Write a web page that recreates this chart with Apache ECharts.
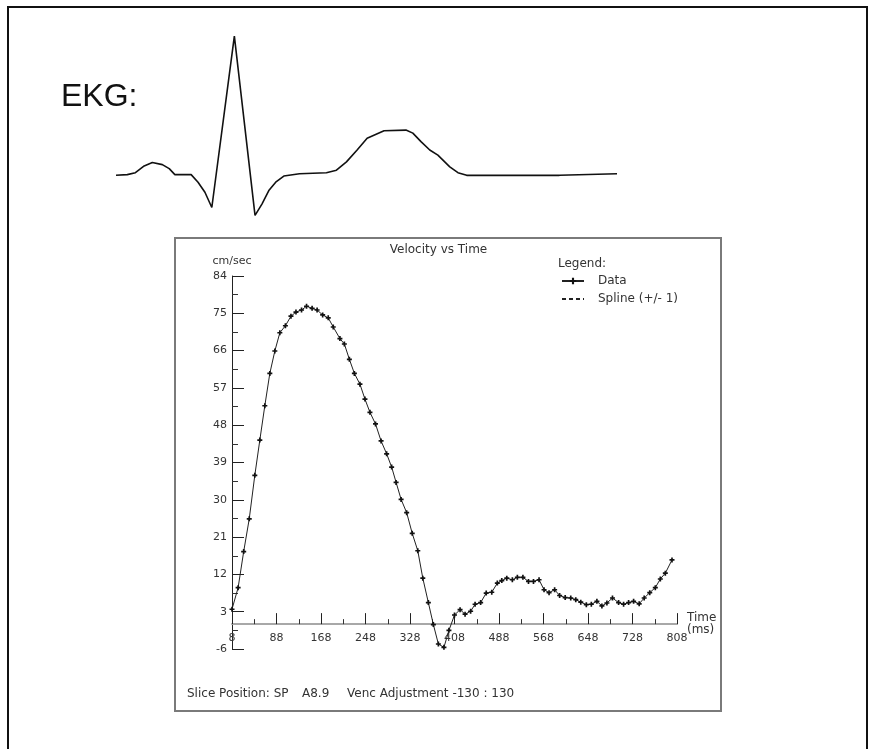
<!DOCTYPE html>
<html>
<head>
<meta charset="utf-8">
<title>EKG / Velocity vs Time</title>
<script src="https://cdn.jsdelivr.net/npm/echarts@6/dist/echarts.min.js"></script>
<style>
  html, body { margin: 0; padding: 0; background: #fff; }
  #main { width: 877px; height: 749px; }
</style>
</head>
<body>
<div id="main"></div>
<script>
// EKG trace (time in ms, amplitude normalised to the R peak)
var ekgTime = [0, 18, 31, 45, 58, 74, 85, 94, 120, 131, 142, 153, 189, 222, 233, 244, 255, 268, 293, 336,
  352, 368, 385, 401, 428, 463, 474, 487, 501, 514, 533, 546, 560, 708, 711, 800];
var ekgAmp = [-0.012, -0.007, 0.007, 0.056, 0.081, 0.066, 0.037, -0.007, -0.007, -0.062, -0.135, -0.246, 1.0, -0.303, -0.221, -0.123, -0.062, -0.017, 0, 0.007,
  0.025, 0.086, 0.172, 0.258, 0.312, 0.317, 0.295, 0.233, 0.172, 0.135, 0.049, 0.007, -0.012, -0.012, 0, 0];

// velocity measurements
var timeMs = [8, 19, 29, 39, 49, 58, 67, 76, 85, 94, 104, 114, 123, 133, 142, 152, 161, 171, 181, 190,
  202, 210, 219, 228, 238, 247, 256, 266, 276, 286, 295, 303, 312, 322, 332, 342, 351, 361, 370, 379,
  389, 398, 408,
  418, 427, 437, 445, 455, 465, 475, 485, 493, 502, 512, 521, 531, 541, 550, 560, 569, 578, 588, 597,
  607, 617, 626, 635, 645, 654, 664, 673, 682, 692, 703, 712, 721, 730, 740, 749, 759, 769, 778, 787, 799];
var velocity = [3.6, 8.8, 17.5, 25.4, 35.9, 44.4, 52.7, 60.5, 65.9, 70.3, 72.0, 74.3, 75.3, 75.8, 76.7, 76.2, 75.8, 74.6, 73.9, 71.7,
  68.9, 67.6, 63.9, 60.5, 57.9, 54.3, 51.1, 48.3, 44.2, 41.1, 37.9, 34.2, 30.1, 26.9, 21.9, 17.7, 11.1, 5.2, -0.1, -4.8,
  -5.6, -1.5, 2.2,
  3.5, 2.4, 3.1, 4.8, 5.2, 7.5, 7.7, 9.9, 10.5, 11.1, 10.7, 11.3, 11.3, 10.3, 10.3, 10.7, 8.3, 7.6, 8.3, 6.9,
  6.4, 6.3, 5.9, 5.3, 4.7, 4.8, 5.5, 4.4, 5.1, 6.3, 5.2, 4.8, 5.2, 5.5, 4.9, 6.3, 7.6, 8.8, 10.9, 12.3, 15.5];

var xTicks = { min: 8, max: 808, step: 80 };
var yTicks = { min: -6, max: 84, step: 9 };

var ekgData = ekgTime.map(function (t, i) { return [t, ekgAmp[i]]; });
var velData = timeMs.map(function (t, i) { return [t, velocity[i]]; });

var font = 'DejaVu Sans';
var plus = 'path://M1,0H2V1H3V2H2V3H1V2H0V1H1Z';
var txt = '12px "DejaVu Sans"';

var myChart = echarts.init(document.getElementById('main'));
myChart.setOption({
  backgroundColor: '#fff',
  animation: false,
  title: {
    text: 'Velocity vs Time',
    left: 'center',
    top: 244,
    padding: 0,
    textStyle: { fontFamily: font, fontSize: 12, fontWeight: 'normal', color: '#333' }
  },
  legend: {
    orient: 'vertical',
    left: 561,
    top: 275,
    padding: 0,
    itemWidth: 22,
    itemHeight: 8,
    itemGap: 6,
    textStyle: { fontFamily: font, fontSize: 12, color: '#333', padding: [0, 0, 0, 9] },
    data: [
      { name: 'Data' },
      { name: 'Spline (+/- 1)', itemStyle: { opacity: 0 } }
    ]
  },
  grid: [
    { left: 232, top: 276, right: 200, bottom: 100 },
    { left: 116, top: 29.3, right: 260, bottom: 527.2 }
  ],
  xAxis: [
    {
      gridIndex: 0,
      type: 'value',
      min: xTicks.min,
      max: xTicks.max,
      interval: xTicks.step,
      name: 'Time\n(ms)',
      nameLocation: 'end',
      nameGap: 10,
      nameMoveOverlap: false,
      nameTextStyle: { fontFamily: font, fontSize: 12, color: '#333', lineHeight: 12, padding: [3, 0, 0, 0] },
      axisLine: { onZero: true, lineStyle: { color: '#a8a8a8', width: 2 } },
      axisTick: { inside: true, length: 11, lineStyle: { color: '#222' } },
      minorTick: { show: true, splitNumber: 2, length: 5, lineStyle: { color: '#333' } },
      axisLabel: { margin: -16, fontFamily: font, fontSize: 11, color: '#333' },
      splitLine: { show: false }
    },
    {
      gridIndex: 1, type: 'value', min: 0, max: 800, show: false
    }
  ],
  yAxis: [
    {
      gridIndex: 0,
      type: 'value',
      min: yTicks.min,
      max: yTicks.max,
      interval: yTicks.step,
      name: 'cm/sec',
      nameLocation: 'end',
      nameGap: 9,
      nameTextStyle: { fontFamily: font, fontSize: 11, color: '#333' },
      axisLine: { show: true, onZero: false, lineStyle: { color: '#222', width: 1 } },
      axisTick: { show: true, inside: true, length: 12, lineStyle: { color: '#222' } },
      minorTick: { show: true, splitNumber: 2, length: 6, lineStyle: { color: '#333' } },
      axisLabel: { margin: 5, fontFamily: font, fontSize: 11, color: '#333' },
      splitLine: { show: false }
    },
    {
      gridIndex: 1, type: 'value', min: -0.35, max: 1.05, show: false
    }
  ],
  series: [
    {
      name: 'EKG',
      type: 'line',
      xAxisIndex: 1,
      yAxisIndex: 1,
      data: ekgData,
      symbol: 'none',
      lineStyle: { color: '#111', width: 1.6 }
    },
    {
      name: 'Data',
      type: 'line',
      data: velData,
      symbol: plus,
      symbolSize: 5,
      itemStyle: { color: '#111' },
      lineStyle: { color: '#222', width: 1 }
    },
    {
      name: 'Spline (+/- 1)',
      type: 'line',
      data: [],
      symbol: 'none',
      itemStyle: { color: '#222' },
      lineStyle: { color: '#222', width: 1, type: [4, 3] }
    }
  ],
  graphic: [
    {
      type: 'rect',
      shape: { x: 8, y: 7, width: 859, height: 770 },
      style: { fill: null, stroke: '#111', lineWidth: 2 }
    },
    {
      type: 'rect',
      shape: { x: 175, y: 238, width: 546, height: 473 },
      style: { fill: null, stroke: '#7a7a7a', lineWidth: 2 }
    },
    {
      type: 'text',
      x: 61, y: 97,
      style: { text: 'EKG:', font: '32px "Liberation Sans", Arial, sans-serif', fill: '#111', verticalAlign: 'middle' }
    },
    {
      type: 'text',
      x: 558, y: 264,
      style: { text: 'Legend:', font: txt, fill: '#333', verticalAlign: 'middle' }
    },
    {
      type: 'text',
      x: 187, y: 694,
      style: { text: 'Slice Position: SP', font: txt, fill: '#333', verticalAlign: 'middle' }
    },
    {
      type: 'text',
      x: 302, y: 694,
      style: { text: 'A8.9', font: txt, fill: '#333', verticalAlign: 'middle' }
    },
    {
      type: 'text',
      x: 347, y: 694,
      style: { text: 'Venc Adjustment -130 : 130', font: txt, fill: '#333', verticalAlign: 'middle' }
    }
  ]
});
</script>
</body>
</html>
